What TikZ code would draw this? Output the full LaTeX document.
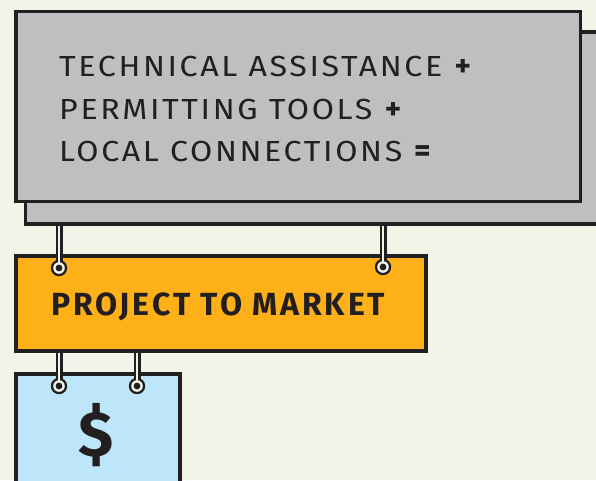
\documentclass[tikz,border=0pt]{standalone}
\usepackage{fontspec}
\setmainfont{Fira Sans}
\newfontfamily\leadfont[LetterSpace=9,FakeStretch=1.11]{Fira Sans}
\newfontfamily\boldfont[LetterSpace=9]{Fira Sans Bold}
\newfontfamily\opfont{Fira Sans Bold}
\definecolor{bgcol}{HTML}{F0F5E8}
\definecolor{graycol}{HTML}{BEBFC1}
\definecolor{orangecol}{HTML}{FDB017}
\definecolor{bluecol}{HTML}{BDE6FA}
\definecolor{inkcol}{HTML}{231F20}
\begin{document}
\begin{tikzpicture}[x=1pt,y=-1pt,
  panel/.style={draw=inkcol, line width=3.5pt, anchor=north west, inner sep=0pt},
  cord/.style={line width=7pt, draw=inkcol},
  cordcore/.style={line width=2.8pt, draw=bgcol},
  lead/.style={anchor=base west, inner sep=0pt, text=inkcol, font=\leadfont\fontsize{29}{29}\selectfont},
  oper/.style={anchor=base west, inner sep=0pt, text=inkcol, font=\opfont\fontsize{31}{31}\selectfont}]
\useasboundingbox (0,0) rectangle (596,480);
\clip (0,0) rectangle (596,480);
\fill[bgcol] (0,0) rectangle (596,480);

% stacked gray panels
\node[panel, fill=graycol, minimum width=600pt, minimum height=192pt] (back) at (23.5,30) {};
\node[panel, fill=graycol, minimum width=564.5pt, minimum height=190pt] (front) at (14,9.5) {};

% orange and blue panels
\node[panel, fill=orangecol, minimum width=410pt, minimum height=95pt] (project) at (14,254) {};
\node[panel, fill=bluecol, minimum width=164pt, minimum height=140pt] (money) at (14,372) {};

% hanging points
\coordinate (r1) at (59,268);
\coordinate (r2) at (383,267);
\coordinate (r3) at (59,386);
\coordinate (r4) at (137,386);
\coordinate (t1) at (r1 |- back.south);
\coordinate (t2) at (r2 |- back.south);
\coordinate (t3) at (r3 |- project.south);
\coordinate (t4) at (r4 |- project.south);

% cords and rings
\foreach \t/\r in {t1/r1,t2/r2,t3/r3,t4/r4}{
  \draw[cord] (\t) -- (\r);
  \fill[inkcol] (\r) circle (8.2pt);
  \fill[bgcol] (\r) circle (5.8pt);
  \draw[cordcore] (\t) -- (\r);
  \fill[inkcol] (\r) circle (3.4pt);
}

% labels
\node[lead] (l1) at (59,76) {TECHNICAL ASSISTANCE};
\node[lead] (l2) at (59,119) {PERMITTING TOOLS};
\node[lead] (l3) at (59,161) {LOCAL CONNECTIONS};
\node[oper] (p1) at ([xshift=12pt]l1.base east) {+};
\node[oper] (p2) at ([xshift=12pt]l2.base east) {+};
\node[oper, font=\opfont\fontsize{32}{32}\selectfont] (eq) at ([xshift=12pt]l3.base east) {=};
\node[anchor=base west, inner sep=0pt, text=inkcol, font=\boldfont\fontsize{32}{32}\selectfont] (pm) at (51,315)
  {PROJECT TO MARKET};
\node[anchor=base, inner sep=0pt, text=inkcol, font=\opfont\fontsize{64}{64}\selectfont] (dollar) at (96,456) {\$};
\end{tikzpicture}
\end{document}
